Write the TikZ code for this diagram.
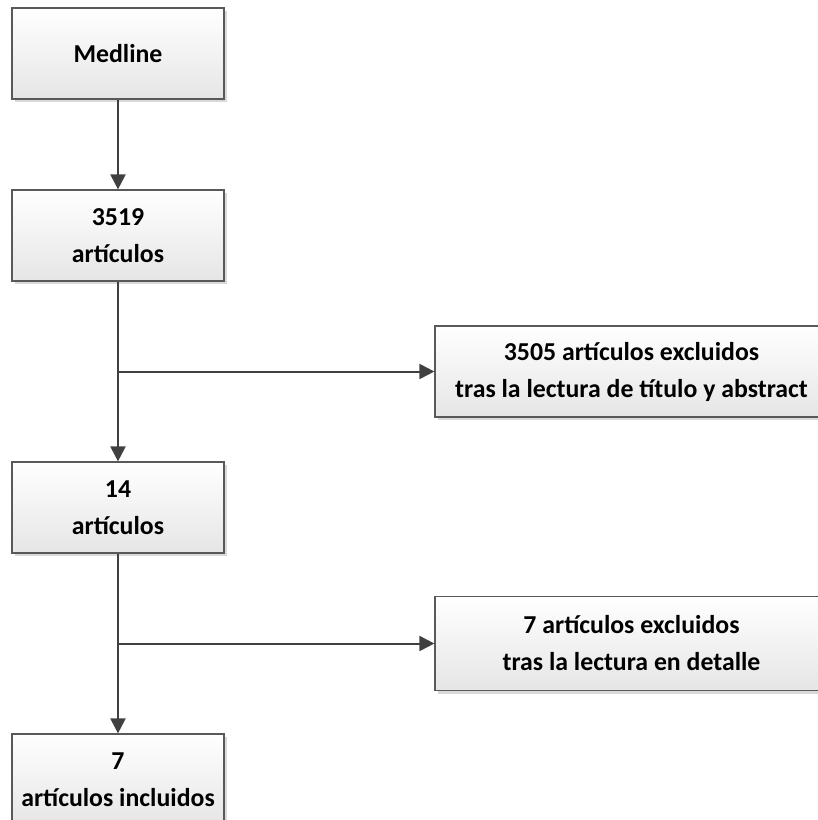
\documentclass[tikz,border=0pt]{standalone}
\usepackage{fontspec}
\setmainfont{Carlito}
\usetikzlibrary{arrows.meta,shadows}

\begin{document}
\begin{tikzpicture}[x=0.5pt,y=-0.5pt,
  box/.style={draw=black!65,line width=0.6pt,top color=white,bottom color=black!10,
    drop shadow={shadow xshift=1.6pt,shadow yshift=-1.6pt,fill=black!15,opacity=1},
    minimum width=106pt,minimum height=45.5pt,align=center,inner sep=0pt,
    font=\fontsize{12.9}{18.5}\selectfont\bfseries},
  wide/.style={box,minimum width=196.5pt},
  link/.style={draw=black!75,line width=1pt},
  >={Triangle[length=7.5pt,width=7.5pt]}]
\clip (0,0) rectangle (818,820);
\node[box](medline) at (118,53.5){Medline};
\node[box](art3519) at (118,235.5){3519\\artículos};
\node[box](art14) at (118,507.5){14\\artículos};
\node[box](art7) at (118,779.5){7\\artículos incluidos};
\node[wide](excl3505) at (631.5,371.5){3505 artículos excluidos\\tras la lectura de título y abstract};
\node[wide,minimum height=47pt](excl7) at (631.5,643.5){7 artículos excluidos\\tras la lectura en detalle};
\draw[link,->] (medline) -- (art3519);
\draw[link,->] (art3519) -- (art14);
\draw[link,->] (art14) -- (art7);
\draw[link,->] (art3519 |- excl3505) -- (excl3505);
\draw[link,->] (art14 |- excl7) -- (excl7);
\end{tikzpicture}
\end{document}
